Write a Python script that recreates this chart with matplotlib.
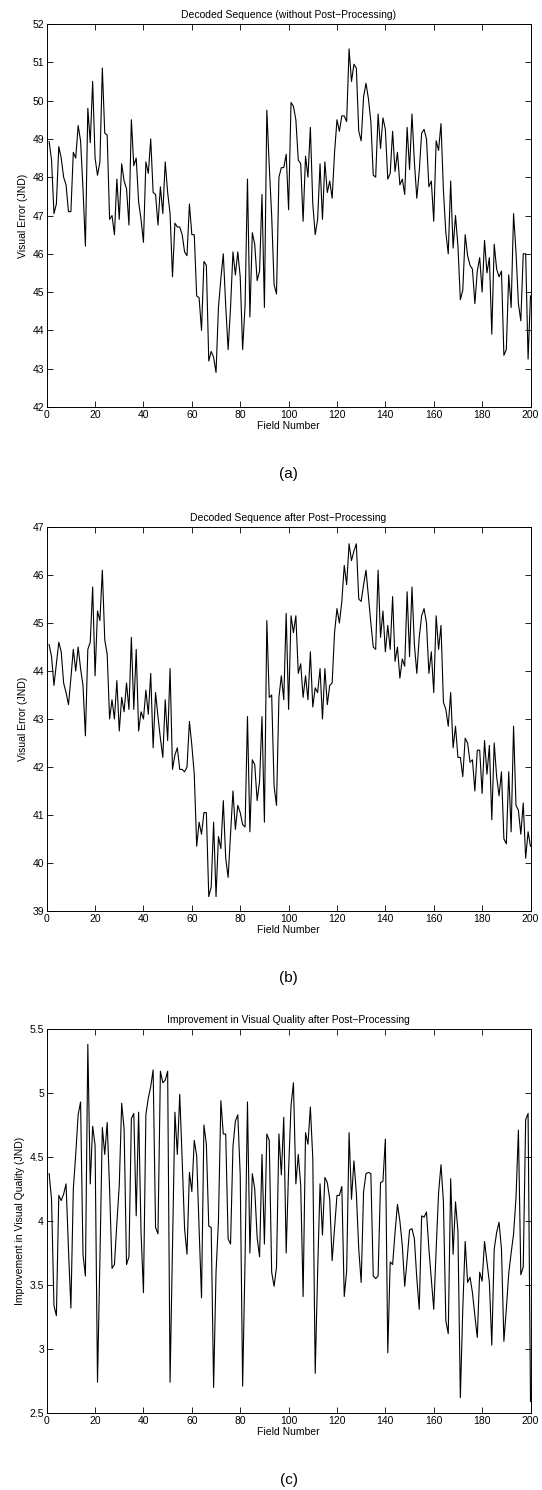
import numpy as np
import matplotlib
matplotlib.use("Agg")
from matplotlib import pyplot as plt
from matplotlib.ticker import FormatStrFormatter

plt.rcParams['font.family'] = ['Liberation Sans', 'DejaVu Sans']

# field numbers 1..200
fields = np.arange(1, 201)

# (a) visual error, no post-processing
err_raw = [
    48.93, 48.45, 47.05, 47.3, 48.8, 48.5, 48.0, 47.8, 47.1, 47.1,
    48.65, 48.5, 49.35, 48.95, 47.7, 46.2, 49.8, 48.9, 50.5, 48.5,
    48.05, 48.4, 50.85, 49.15, 49.1, 46.9, 47.0, 46.5, 47.95, 46.9,
    48.35, 47.9, 47.7, 46.75, 49.5, 48.3, 48.5, 47.35, 46.9, 46.3,
    48.4, 48.1, 49.0, 47.6, 47.55, 46.75, 47.75, 47.05, 48.4, 47.6,
    47.05, 45.4, 46.8, 46.7, 46.7, 46.5, 46.05, 45.95, 47.3, 46.5,
    46.5, 44.9, 44.85, 44.0, 45.8, 45.7, 43.2, 43.45, 43.3, 42.9,
    44.6, 45.35, 46.0, 44.65, 43.5, 44.6, 46.05, 45.45, 46.05, 45.4,
    43.5, 44.65, 47.95, 44.35, 46.55, 46.25, 45.3, 45.55, 47.55, 44.6,
    49.75, 48.3, 47.0, 45.2, 44.95, 48.0, 48.25, 48.25, 48.6, 47.15,
    49.95, 49.85, 49.5, 48.45, 48.35, 46.85, 48.55, 48.0, 49.3, 47.3,
    46.5, 46.9, 48.35, 46.9, 48.4, 47.6, 47.9, 47.45, 48.65, 49.5,
    49.2, 49.6, 49.6, 49.45, 51.35, 50.5, 50.95, 50.85, 49.2, 48.95,
    50.1, 50.45, 50.05, 49.45, 48.05, 48.0, 49.65, 48.75, 49.55, 49.25,
    47.95, 48.1, 49.2, 48.15, 48.65, 47.8, 47.95, 47.55, 49.3, 48.2,
    49.65, 48.4, 47.45, 48.15, 49.15, 49.25, 49.0, 47.75, 47.9, 46.85,
    48.95, 48.7, 49.4, 47.65, 46.55, 46.0, 47.9, 46.15, 47.0, 46.2,
    44.8, 45.05, 46.5, 45.95, 45.7, 45.6, 44.7, 45.55, 45.9, 45.0,
    46.35, 45.5, 45.9, 43.9, 46.25, 45.6, 45.4, 45.55, 43.35, 43.5,
    45.45, 44.6, 47.05, 46.05, 44.7, 44.25, 46.0, 46.0, 43.25, 44.9,
]

# (b) visual error after post-processing
err_post = [
    44.55, 44.3, 43.7, 44.15, 44.6, 44.4, 43.75, 43.55, 43.3, 43.85,
    44.45, 44.0, 44.5, 44.05, 43.7, 42.65, 44.45, 44.6, 45.75, 43.9,
    45.25, 45.05, 46.1, 44.65, 44.35, 43.0, 43.4, 43.0, 43.8, 42.75,
    43.45, 43.15, 43.75, 43.2, 44.7, 43.2, 44.45, 42.75, 43.15, 43.0,
    43.6, 43.1, 43.95, 42.4, 43.55, 43.05, 42.6, 42.2, 43.4, 42.55,
    44.05, 41.95, 42.25, 42.4, 41.95, 41.95, 41.9, 42.0, 42.95, 42.45,
    41.85, 40.35, 40.85, 40.6, 41.05, 41.05, 39.3, 39.5, 40.85, 39.3,
    40.55, 40.3, 41.3, 40.1, 39.7, 40.6, 41.5, 40.7, 41.2, 41.05,
    40.8, 40.75, 43.05, 40.65, 42.15, 42.05, 41.3, 41.7, 43.05, 40.85,
    45.05, 43.45, 43.5, 41.6, 41.2, 43.45, 43.9, 43.4, 45.2, 43.2,
    45.15, 44.8, 45.15, 43.95, 44.15, 43.45, 43.9, 43.4, 44.4, 43.25,
    43.65, 43.55, 44.05, 43.0, 44.05, 43.3, 43.7, 43.75, 44.8, 45.3,
    45.0, 45.45, 46.2, 45.8, 46.65, 46.3, 46.5, 46.65, 45.5, 45.45,
    45.8, 46.1, 45.55, 45.0, 44.5, 44.45, 46.1, 44.7, 45.25, 44.4,
    44.95, 44.45, 45.55, 44.2, 44.5, 43.85, 44.25, 44.1, 45.65, 44.3,
    45.75, 44.55, 43.95, 44.7, 45.15, 45.3, 45.0, 43.95, 44.4, 43.55,
    45.15, 44.45, 44.95, 43.35, 43.2, 42.85, 43.55, 42.4, 42.85, 42.2,
    42.2, 41.8, 42.6, 42.5, 42.1, 42.15, 41.5, 42.35, 42.35, 41.45,
    42.55, 41.85, 42.45, 40.9, 42.5, 41.8, 41.4, 41.9, 40.5, 40.4,
    41.9, 40.65, 42.85, 41.2, 41.1, 40.6, 41.25, 40.1, 40.65, 40.35,
]

# (c) improvement in visual quality
improve = [
    4.37, 4.17, 3.34, 3.26, 4.2, 4.16, 4.21, 4.29, 3.78, 3.32,
    4.25, 4.52, 4.83, 4.93, 3.74, 3.57, 5.38, 4.29, 4.74, 4.59,
    2.74, 3.7, 4.73, 4.52, 4.77, 4.25, 3.63, 3.66, 3.98, 4.28,
    4.92, 4.72, 3.66, 3.72, 4.8, 4.84, 4.04, 4.85, 3.91, 3.44,
    4.83, 4.96, 5.05, 5.18, 3.95, 3.9, 5.17, 5.08, 5.1, 5.17,
    2.74, 3.8, 4.85, 4.52, 4.99, 4.48, 3.94, 3.74, 4.38, 4.23,
    4.63, 4.51, 3.94, 3.4, 4.75, 4.6, 3.96, 3.95, 2.7, 3.6,
    4.0, 4.94, 4.68, 4.68, 3.86, 3.82, 4.58, 4.78, 4.83, 4.36,
    2.71, 3.7, 4.93, 3.75, 4.37, 4.25, 3.87, 3.72, 4.52, 3.82,
    4.68, 4.63, 3.6, 3.49, 3.64, 4.68, 4.36, 4.81, 3.75, 4.4,
    4.9, 5.08, 4.29, 4.52, 4.28, 3.41, 4.69, 4.6, 4.89, 4.49,
    2.81, 3.6, 4.29, 3.89, 4.34, 4.3, 4.17, 3.69, 3.94, 4.2,
    4.2, 4.27, 3.41, 3.61, 4.69, 4.17, 4.47, 4.22, 3.78, 3.52,
    4.23, 4.37, 4.38, 4.37, 3.57, 3.55, 3.57, 4.3, 4.31, 4.64,
    2.97, 3.68, 3.66, 3.91, 4.13, 4.0, 3.81, 3.49, 3.7, 3.93,
    3.94, 3.86, 3.55, 3.31, 4.04, 4.03, 4.07, 3.78, 3.55, 3.31,
    3.78, 4.22, 4.44, 4.15, 3.22, 3.12, 4.33, 3.74, 4.15, 3.92,
    2.62, 3.31, 3.84, 3.52, 3.56, 3.44, 3.26, 3.09, 3.6, 3.53,
    3.84, 3.68, 3.52, 3.03, 3.78, 3.91, 3.99, 3.78, 3.06, 3.31,
    3.59, 3.75, 3.9, 4.18, 4.71, 3.58, 3.64, 4.79, 4.84, 2.59,
]

titles = ['Decoded Sequence (without Post\u2212Processing)',
          'Decoded Sequence after Post\u2212Processing',
          'Improvement in Visual Quality after Post\u2212Processing']
ylabels = ['Visual Error (JND)', 'Visual Error (JND)',
           'Improvement in Visual Quality (JND)']
captions = ['(a)', '(b)', '(c)']
ylims = [(42, 52), (39, 47), (2.5, 5.5)]
ysteps = [1, 1, 0.5]

W, H = 542, 1490
fig = plt.figure(figsize=(W / 100, H / 100), dpi=100)

# axes boxes in pixels: top, bottom
boxes = [(24, 407), (527, 911), (1029, 1413)]
left, right = 46.7, 530.5

for i, series in enumerate([err_raw, err_post, improve]):
    top, bot = boxes[i]
    ax = fig.add_axes([left / W, 1 - bot / H, (right - left) / W, (bot - top) / H])
    ax.plot(fields, series, color='black', linewidth=0.8)
    ax.set_xlim(0, 200)
    ax.set_ylim(*ylims[i])
    ax.set_xticks(np.arange(0, 201, 20))
    lo, hi = ylims[i]
    ax.set_yticks(np.arange(lo, hi + 1e-9, ysteps[i]))
    ax.yaxis.set_major_formatter(FormatStrFormatter('%g'))
    ax.tick_params(direction='in', top=True, right=True, labelsize=7.5,
                   length=4, width=0.6, pad=2)
    for s in ax.spines.values():
        s.set_linewidth(0.7)
    ax.set_title(titles[i], fontsize=7.5, pad=4)
    ax.set_xlabel('Field Number', fontsize=7.5, labelpad=1)
    ax.set_ylabel(ylabels[i], fontsize=7.5, labelpad=3)
    fig.text(0.5 * (left + right) / W, 1 - (bot + 67) / H, captions[i],
             ha='center', va='center', fontsize=11)

fig.savefig('out.png', dpi=100)
